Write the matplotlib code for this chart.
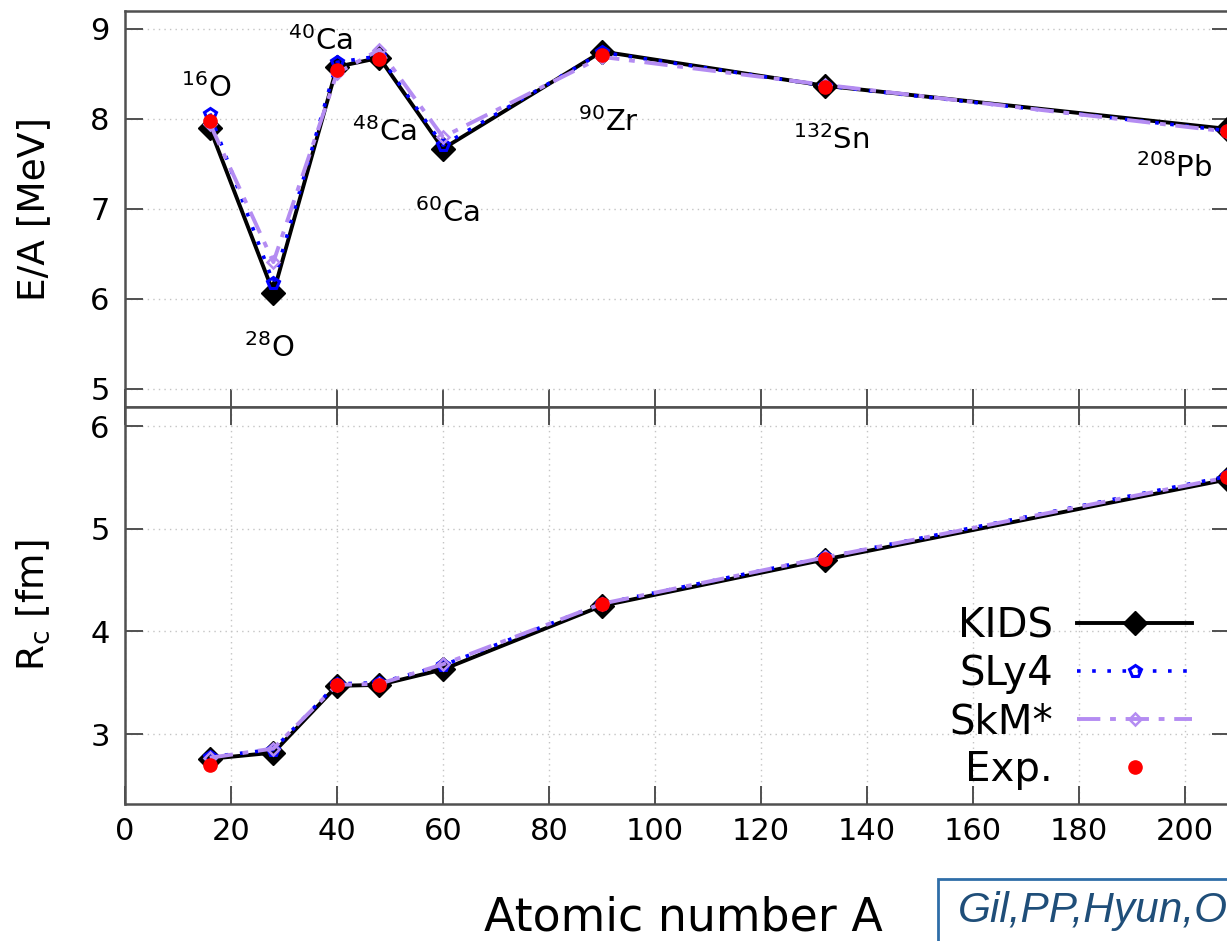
import matplotlib
matplotlib.use('Agg')
import matplotlib.pyplot as plt
from matplotlib.patches import Rectangle

# ---------------- data ----------------
nuclei = ['16O', '28O', '40Ca', '48Ca', '60Ca', '90Zr', '132Sn', '208Pb']
A = [16, 28, 40, 48, 60, 90, 132, 208]

E_KIDS = [7.90, 6.07, 8.58, 8.68, 7.67, 8.75, 8.37, 7.89]
E_SLy4 = [8.06, 6.18, 8.63, 8.70, 7.71, 8.74, 8.37, 7.87]
E_SkM = [7.95, 6.41, 8.51, 8.77, 7.80, 8.69, 8.38, 7.86]

R_KIDS = [2.76, 2.82, 3.47, 3.48, 3.63, 4.25, 4.70, 5.48]
R_SLy4 = [2.78, 2.85, 3.49, 3.50, 3.67, 4.27, 4.72, 5.51]
R_SkM = [2.77, 2.86, 3.48, 3.49, 3.68, 4.27, 4.72, 5.50]

A_exp = [16, 40, 48, 90, 132, 208]
E_exp = [7.98, 8.55, 8.67, 8.71, 8.36, 7.87]
R_exp = [2.70, 3.48, 3.48, 4.27, 4.71, 5.50]

label_texts = [r'$^{16}$O', r'$^{28}$O', r'$^{40}$Ca', r'$^{48}$Ca',
               r'$^{60}$Ca', r'$^{90}$Zr', r'$^{132}$Sn', r'$^{208}$Pb']
label_pos = [(15.3, 8.34), (27.2, 5.46), (36.8, 8.87), (48.9, 7.86),
             (60.8, 6.96), (91.2, 7.97), (133.2, 7.77), (198.0, 7.46)]

series_names = ['KIDS', 'SLy4', 'SkM*', 'Exp.']
xticks = [0, 20, 40, 60, 80, 100, 120, 140, 160, 180, 200]

# ---------------- figure ----------------
plt.rcParams['font.family'] = ['DejaVu Sans']
plt.rcParams['mathtext.fontset'] = 'dejavusans'

W, H = 1227, 941
fig = plt.figure(figsize=(W / 100, H / 100), dpi=100)


def fx(px):
    return px / W


def fy(py):
    return 1 - py / H


left_px, right_px = 125, 1230
ax1 = fig.add_axes([fx(left_px), fy(407), (right_px - left_px) / W, (407 - 11) / H])
ax2 = fig.add_axes([fx(left_px), fy(804), (right_px - left_px) / W, (804 - 407) / H])

spine_col = '#505050'
purple = '#b48cf2'

styles = dict(
    KIDS=dict(color='black', lw=2.8, marker='D', ms=12.5, mfc='black', mec='black', zorder=3),
    SLy4=dict(color='#0000ff', lw=2.6, dashes=(1, 3.2), marker='p', ms=8.5, mfc='none',
              mec='#0000ff', mew=2.2, zorder=4),
    SkM=dict(color=purple, lw=2.8, dashes=(6, 2.5, 1.5, 2.5), marker='D', ms=6.5,
             mfc='none', mec=purple, mew=1.8, zorder=5),
    Exp=dict(color='red', ls='none', marker='o', ms=9.5, mec='red', zorder=6),
)

for ax, yk, ys, ym, ye in [(ax1, E_KIDS, E_SLy4, E_SkM, E_exp),
                           (ax2, R_KIDS, R_SLy4, R_SkM, R_exp)]:
    ax.plot(A, yk, label=series_names[0], **styles['KIDS'])
    ax.plot(A, ys, label=series_names[1], **styles['SLy4'])
    ax.plot(A, ym, label=series_names[2], **styles['SkM'])
    ax.plot(A_exp, ye, label=series_names[3], **styles['Exp'])
    ax.set_xlim(0, 208.5)
    ax.set_xticks(xticks)
    for s in ax.spines.values():
        s.set_color(spine_col)
        s.set_linewidth(1.8)
    ax.tick_params(direction='in', length=13, width=1.4, color=spine_col,
                   labelsize=22, right=True, pad=11)

ax1.set_ylim(4.8, 9.2)
ax1.set_yticks([5, 6, 7, 8, 9])
ax1.tick_params(axis='x', top=False, labelbottom=False)
ax1.grid(axis='y', linestyle=(0, (1, 3)), color='#c4c4c4', lw=1.0)
ax1.set_axisbelow(True)

ax2.set_ylim(2.32, 6.185)
ax2.set_yticks([3, 4, 5, 6])
ax2.tick_params(axis='x', top=True, pad=9)
ax2.grid(True, linestyle=(0, (1, 3)), color='#c4c4c4', lw=1.0)
ax2.set_axisbelow(True)

for t, (xx, yy) in zip(label_texts, label_pos):
    ax1.text(xx, yy, t, fontsize=21, ha='center', va='center', zorder=7)

ax1.set_ylabel('E/A [MeV]', fontsize=27)
ax1.yaxis.set_label_coords(-0.066, 0.5)
ax2.set_ylabel(r'R$_\mathrm{c}$ [fm]', fontsize=27)
ax2.yaxis.set_label_coords(-0.066, 0.5)
ax2.set_xlabel('Atomic number A', fontsize=33)
ax2.xaxis.set_label_coords(0.505, -0.23)

leg = ax2.legend(loc='upper right', bbox_to_anchor=(fx(1192), fy(606)),
                 bbox_transform=fig.transFigure, frameon=False, markerfirst=False,
                 fontsize=29, handlelength=2.85, handletextpad=0.6,
                 labelspacing=0.2, borderpad=0, borderaxespad=0, numpoints=1)

# citation box (cut at figure edge)
fig.patches.append(Rectangle((fx(938), fy(960)), fx(400), (960 - 879) / H,
                             transform=fig.transFigure, fill=True, facecolor='white',
                             edgecolor='#2f6ea8', lw=2.0, zorder=10))
fig.text(fx(958), fy(911), 'Gil,PP,Hyun,O', fontsize=30.5, style='italic',
         family='Liberation Sans', color='#1f4e79', ha='left', va='center', zorder=11)

fig.savefig('out.png', dpi=100)
